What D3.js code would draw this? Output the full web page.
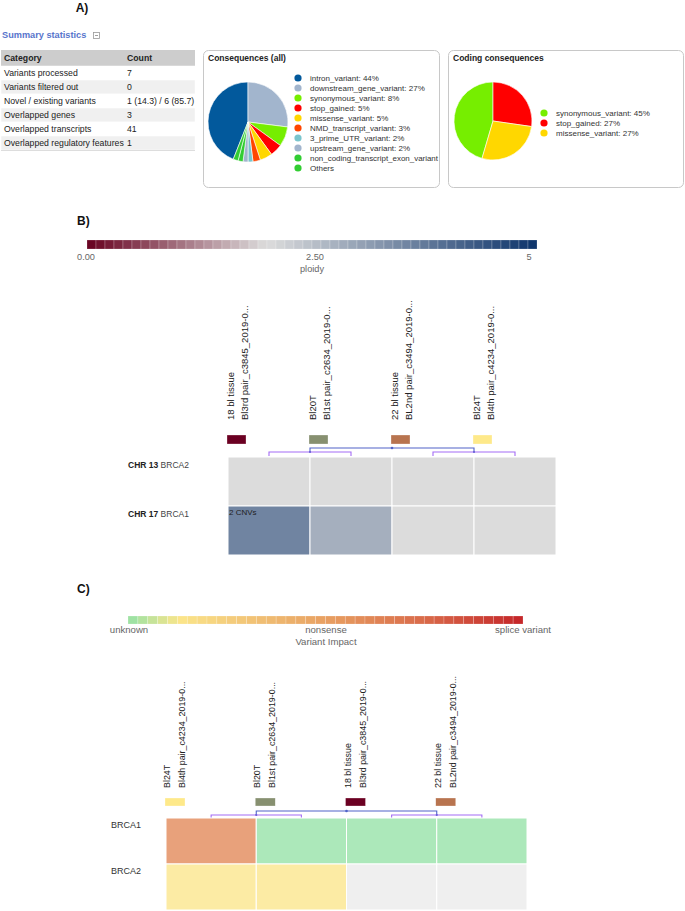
<!DOCTYPE html>
<html><head><meta charset="utf-8">
<script src="https://cdn.jsdelivr.net/npm/d3@7"></script>
<style>
body{margin:0;background:#fff;}
svg text{font-family:"Liberation Sans",Arial,Helvetica,sans-serif;}
</style></head><body>
<svg id="c" width="685" height="911"></svg>
<script>
// ---------- DATA ----------
const summaryHeader = ["Category", "Count"];
const summaryCategories = ["Variants processed", "Variants filtered out", "Novel / existing variants", "Overlapped genes", "Overlapped transcripts", "Overlapped regulatory features"];
const summaryCounts = ["7", "0", "1 (14.3) / 6 (85.7)", "3", "41", "1"];

const consequenceLabels = ["intron_variant", "downstream_gene_variant", "synonymous_variant", "stop_gained", "missense_variant", "NMD_transcript_variant", "3_prime_UTR_variant", "upstream_gene_variant", "non_coding_transcript_exon_variant", "Others"];
const consequenceValues = [44, 27, 8, 5, 5, 3, 2, 2, 2, 2];
const consequenceShowPct = [true, true, true, true, true, true, true, true, false, false];

const codingLabels = ["synonymous_variant", "stop_gained", "missense_variant"];
const codingValues = [45, 27, 27];

const ploidyTicks = [0, 2.5, 5];
const ploidyTickLabels = ["0.00", "2.50", "5"];
const ploidySamples = ["18 bl tissue", "Bl20T", "22 bl tissue", "Bl24T"];
const ploidySampleSub = ["Bl3rd pair_c3845_2019-0...", "Bl1st pair_c2634_2019-0...", "BL2nd pair_c3494_2019-0...", "Bl4th pair_c4234_2019-0..."];
const ploidyChroms = ["CHR 13", "CHR 17"];
const ploidyGenes = ["BRCA2", "BRCA1"];
const ploidyValues = [[2, 2, 2, 2], [3.57, 2.8, 2, 2]];
const ploidyNotes = [["", "", "", ""], ["2 CNVs", "", "", ""]];
const ploidyClusters = [["18 bl tissue", "Bl20T"], ["22 bl tissue", "Bl24T"]];

const impactTicks = [0, 0.5, 1];
const impactTickLabels = ["unknown", "nonsense", "splice variant"];
const impactSamples = ["Bl24T", "Bl20T", "18 bl tissue", "22 bl tissue"];
const impactSampleSub = ["Bl4th pair_c4234_2019-0...", "Bl1st pair_c2634_2019-0...", "Bl3rd pair_c3845_2019-0...", "BL2nd pair_c3494_2019-0..."];
const impactGenes = ["BRCA1", "BRCA2"];
const impactValues = [[0.62, 0, 0, 0], [0.13, 0.13, null, null]];
const impactClusters = [["Bl24T", "Bl20T"], ["18 bl tissue", "22 bl tissue"]];

// ---------- STYLES ----------
const consequenceColors = ["#02599c", "#a2b5cd", "#76ee00", "#ff0000", "#ffd700", "#ff4500", "#7ac5cd", "#a2b5cd", "#32cd32", "#32cd32"];
const codingColors = ["#76ee00", "#ff0000", "#ffd700"];
const sampleColors = {"18 bl tissue": "#6b0022", "Bl20T": "#879070", "22 bl tissue": "#b8744f", "Bl24T": "#fee98a"};

const svg = d3.select("#c");

// ---------- A ----------
svg.append("text").attr("x", 82).attr("y", 12).attr("text-anchor", "middle")
  .attr("font-size", 12).attr("font-weight", "bold").attr("fill", "#111").text("A)");
svg.append("text").attr("x", 2).attr("y", 38).attr("font-size", 9.2).attr("font-weight", "bold")
  .attr("fill", "#5875cc").text("Summary statistics");
svg.append("rect").attr("x", 93.5).attr("y", 32.5).attr("width", 6).attr("height", 6)
  .attr("fill", "none").attr("stroke", "#999").attr("stroke-width", 0.8);
svg.append("line").attr("x1", 95).attr("x2", 98).attr("y1", 35.5).attr("y2", 35.5).attr("stroke", "#888").attr("stroke-width", 0.8);

const tfs = 8.7;
const tbl = svg.append("g");
tbl.append("rect").attr("x", 1).attr("y", 50).attr("width", 194).attr("height", 16).attr("fill", "#cdcdcd");
tbl.append("text").attr("x", 4).attr("y", 61).attr("font-size", tfs).attr("font-weight", "bold").attr("fill", "#222").text(summaryHeader[0]);
tbl.append("text").attr("x", 127).attr("y", 61).attr("font-size", tfs).attr("font-weight", "bold").attr("fill", "#222").text(summaryHeader[1]);
const rowY = d3.scaleBand().domain(d3.range(summaryCategories.length)).range([66, 150]);
tbl.selectAll("rect.r").data(summaryCategories).join("rect").attr("class", "r")
  .attr("x", 1).attr("y", (d, i) => rowY(i)).attr("width", 194).attr("height", rowY.bandwidth())
  .attr("fill", (d, i) => i % 2 ? "#f0f0f0" : "#fff").attr("stroke", "#fff").attr("stroke-width", 0.5);
tbl.selectAll("text.c").data(summaryCategories).join("text").attr("class", "c")
  .attr("x", 4).attr("y", (d, i) => rowY(i) + 10.3).attr("font-size", tfs).attr("fill", "#222").text(d => d);
tbl.selectAll("text.n").data(summaryCounts).join("text").attr("class", "n")
  .attr("x", 127).attr("y", (d, i) => rowY(i) + 10.3).attr("font-size", tfs).attr("fill", "#222").text(d => d);
tbl.append("line").attr("x1", 1).attr("x2", 195).attr("y1", 150.5).attr("y2", 150.5).attr("stroke", "#ddd");

function drawPie(g, values, colors, cx, cy, r) {
  const total = d3.sum(values);
  const a0 = -2 * Math.PI * values[0] / total;
  const pie = d3.pie().sort(null).value(d => d).startAngle(a0).endAngle(a0 + 2 * Math.PI);
  const arc = d3.arc().innerRadius(0).outerRadius(r);
  g.append("g").attr("transform", `translate(${cx},${cy})`)
    .selectAll("path").data(pie(values)).join("path")
    .attr("d", arc).attr("fill", (d, i) => colors[i]).attr("stroke", "#fff").attr("stroke-width", 0.6);
}
function drawBox(x, y, w, h, title) {
  const g = svg.append("g");
  g.append("rect").attr("x", x + 0.5).attr("y", y + 0.5).attr("width", w).attr("height", h).attr("rx", 5)
    .attr("fill", "#fff").attr("stroke", "#c8c8c8");
  g.append("text").attr("x", x + 5).attr("y", y + 11).attr("font-size", 8.5).attr("font-weight", "bold").attr("fill", "#222").text(title);
  return g;
}
function drawLegend(g, labels, values, showPct, colors, x, y0, maxW) {
  const ly = d3.scaleLinear().domain([0, 1]).range([y0, y0 + 10]);
  g.selectAll("circle.lg").data(labels).join("circle").attr("class", "lg")
    .attr("cx", x).attr("cy", (d, i) => ly(i)).attr("r", 3.6).attr("fill", (d, i) => colors[i]);
  g.selectAll("text.lg").data(labels).join("text").attr("class", "lg")
    .attr("x", x + 12).attr("y", (d, i) => ly(i) + 3).attr("font-size", 8).attr("fill", "#333")
    .text((d, i) => showPct[i] ? `${d}: ${values[i]}%` : d)
    .each(function () {
      if (maxW && this.getComputedTextLength() > maxW) d3.select(this).attr("textLength", maxW).attr("lengthAdjust", "spacingAndGlyphs");
    });
}
const boxA = drawBox(203, 50, 236, 137, "Consequences (all)");
drawPie(boxA, consequenceValues, consequenceColors, 248, 122, 40);
drawLegend(boxA, consequenceLabels, consequenceValues, consequenceShowPct, consequenceColors, 298, 78, 128);
const boxB = drawBox(448, 50, 235, 137, "Coding consequences");
drawPie(boxB, codingValues, codingColors, 493, 121, 39);
drawLegend(boxB, codingLabels, codingValues, [true, true, true], codingColors, 544, 113, null);

// ---------- helpers for heatmaps ----------
function colorBar(x0, x1, y, h, n, domain, color) {
  const g = svg.append("g");
  const cx = d3.scaleLinear().domain([0, n]).range([x0, x1]);
  const v = d3.scaleLinear().domain([0, n]).range(domain);
  g.selectAll("rect").data(d3.range(n)).join("rect")
    .attr("x", i => cx(i)).attr("y", y).attr("width", cx(1) - cx(0)).attr("height", h)
    .attr("fill", i => color(v(i + 0.5))).attr("stroke", "rgba(255,255,255,0.35)").attr("stroke-width", 0.6);
}
function sampleHeader(xs, samples, subs, baseY, off1, off2, fs, swY, swW, swH) {
  const g = svg.append("g");
  samples.forEach((s, i) => {
    const t = g.append("g").attr("transform", `translate(${xs(s)},${baseY}) rotate(-90)`);
    t.append("text").attr("x", 0).attr("y", off1).attr("font-size", fs).attr("fill", "#222").text(s);
    t.append("text").attr("x", 0).attr("y", off2).attr("font-size", fs).attr("fill", "#222").text(subs[i]);
  });
  g.selectAll("rect").data(samples).join("rect")
    .attr("x", d => xs(d) - 1).attr("y", swY).attr("width", swW).attr("height", swH)
    .attr("fill", d => sampleColors[d]).attr("stroke", "rgba(255,255,255,0.6)").attr("stroke-width", 0.5);
}
function dendro(xs, clusters, yTop, yMid, yLeaf) {
  const g = svg.append("g").attr("fill", "none");
  const c = s => xs(s) + xs.bandwidth() / 2;
  const mids = clusters.map(p => (c(p[0]) + c(p[1])) / 2);
  clusters.forEach(p => {
    g.append("path").attr("d", `M${c(p[0])},${yLeaf}V${yMid}H${c(p[1])}V${yLeaf}`)
      .attr("stroke", "#a46cf5").attr("stroke-width", 1.1);
  });
  g.append("path").attr("d", `M${mids[0]},${yMid}V${yTop}H${mids[1]}V${yMid}`)
    .attr("stroke", "#5063c8").attr("stroke-width", 1.1);
  g.append("circle").attr("cx", (mids[0] + mids[1]) / 2).attr("cy", yTop).attr("r", 1.3).attr("fill", "#5063c8");
  mids.forEach(m => g.append("circle").attr("cx", m).attr("cy", yMid).attr("r", 1.1).attr("fill", "#6a5fd8"));
}

// ---------- B ----------
svg.append("text").attr("x", 77).attr("y", 225).attr("font-size", 12).attr("font-weight", "bold").attr("fill", "#111").text("B)");
const ploidyColor = d3.scaleLinear().domain([0, 2, 5]).range(["#67001f", "#dcdcdc", "#0d346b"]);
colorBar(87, 537, 240, 9, 50, [0, 5], ploidyColor);
const pTickX = d3.scaleLinear().domain([0, 2.5, 5]).range([86, 315, 529]);
svg.append("g").selectAll("text").data(ploidyTicks).join("text")
  .attr("x", d => pTickX(d)).attr("y", 260).attr("text-anchor", "middle").attr("font-size", 9.2).attr("fill", "#666")
  .text((d, i) => ploidyTickLabels[i]);
svg.append("text").attr("x", 312).attr("y", 272).attr("text-anchor", "middle").attr("font-size", 9.2).attr("fill", "#666").text("ploidy");

const bx = d3.scaleBand().domain(ploidySamples).range([228, 556]);
const by = d3.scaleBand().domain(ploidyGenes).range([457, 555]);
sampleHeader(bx, ploidySamples, ploidySampleSub, 420, 5.5, 20, 9.5, 435, 19, 9);
dendro(bx, ploidyClusters, 448, 452, 456);
const bCells = [];
ploidyGenes.forEach((g, r) => ploidySamples.forEach((s, c) => bCells.push({g, s, v: ploidyValues[r][c], note: ploidyNotes[r][c]})));
const hb = svg.append("g");
hb.selectAll("rect").data(bCells).join("rect")
  .attr("x", d => bx(d.s)).attr("y", d => by(d.g)).attr("width", bx.bandwidth()).attr("height", by.bandwidth())
  .attr("fill", d => ploidyColor(d.v)).attr("stroke", "#fff").attr("stroke-width", 1);
hb.selectAll("text").data(bCells.filter(d => d.note)).join("text")
  .attr("x", d => bx(d.s) + 1).attr("y", d => by(d.g) + 9).attr("font-size", 8).attr("fill", "#222").text(d => d.note);
ploidyGenes.forEach((g, i) => {
  const t = svg.append("text").attr("x", 128).attr("y", by(g) + 11).attr("font-size", 8.5).attr("fill", "#222");
  t.append("tspan").attr("font-weight", "bold").text(ploidyChroms[i] + " ");
  t.append("tspan").attr("fill", "#444").text(g);
});

// ---------- C ----------
svg.append("text").attr("x", 77).attr("y", 593).attr("font-size", 12).attr("font-weight", "bold").attr("fill", "#111").text("C)");
const impactColor = d3.scaleLinear().domain([0, 0.13, 0.5, 0.75, 1])
  .range(["#95e2a6", "#fbe58a", "#e8a062", "#d96a4a", "#c42528"]);
colorBar(128, 523, 616, 8, 40, [0, 1], impactColor);
const iTickX = d3.scaleLinear().domain([0, 1]).range([129, 523]);
svg.append("g").selectAll("text").data(impactTicks).join("text")
  .attr("x", d => iTickX(d)).attr("y", 633).attr("text-anchor", "middle").attr("font-size", 9.6).attr("fill", "#666")
  .text((d, i) => impactTickLabels[i]);
svg.append("text").attr("x", 326).attr("y", 645).attr("text-anchor", "middle").attr("font-size", 9.6).attr("fill", "#666").text("Variant Impact");

const cx = d3.scaleBand().domain(impactSamples).range([166, 527]);
const cy = d3.scaleBand().domain(impactGenes).range([818, 910]);
sampleHeader(cx, impactSamples, impactSampleSub, 788, 4, 19, 8.9, 798, 20, 8);
dendro(cx, impactClusters, 811, 815, 818);
const cCells = [];
impactGenes.forEach((g, r) => impactSamples.forEach((s, c) => cCells.push({g, s, v: impactValues[r][c]})));
svg.append("g").selectAll("rect").data(cCells).join("rect")
  .attr("x", d => cx(d.s)).attr("y", d => cy(d.g)).attr("width", cx.bandwidth()).attr("height", cy.bandwidth())
  .attr("fill", d => d.v === null ? "#efefef" : impactColor(d.v))
  .attr("fill-opacity", d => d.v === null ? 1 : 0.78)
  .attr("stroke", "#fff").attr("stroke-width", 1);
svg.append("g").selectAll("text").data(impactGenes).join("text")
  .attr("x", 111).attr("y", d => cy(d) + 10).attr("font-size", 9).attr("fill", "#333").text(d => d);
</script>
</body></html>
